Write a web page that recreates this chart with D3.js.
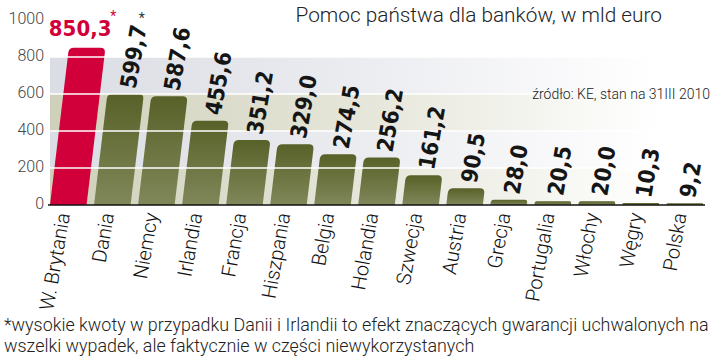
<!DOCTYPE html>
<html>
<head>
<meta charset="utf-8">
<script src="https://cdn.jsdelivr.net/npm/d3@7"></script>
<style>
  body { margin: 0; background: #fff; }
  svg { display: block; }
</style>
</head>
<body>
<svg id="chart" width="720" height="358"></svg>
<script>
const countries = ["W. Brytania", "Dania", "Niemcy", "Irlandia", "Francja", "Hiszpania", "Belgia",
  "Holandia", "Szwecja", "Austria", "Grecja", "Portugalia", "Włochy", "Węgry", "Polska"];
const values = [850.3, 599.7, 587.6, 455.6, 351.2, 329.0, 274.5, 256.2, 161.2, 90.5, 28.0, 20.5, 20.0, 10.3, 9.2];
const starred = ["W. Brytania", "Dania"];
const yTicks = [0, 200, 400, 600, 800, 1000];
const title = "Pomoc państwa dla banków, w mld euro";
const source = "źródło: KE, stan na 31III 2010";
const footnote = [
  "*wysokie kwoty w przypadku Danii i Irlandii to efekt znaczących gwarancji uchwalonych na",
  "wszelki wypadek, ale faktycznie w części niewykorzystanych"
];

const svg = d3.select("#chart");
const skew = 0.12;   // bars lean to the right
const fmt = v => d3.format(".1f")(v).replace(".", ",");

const x = d3.scaleBand()
  .domain(countries)
  .range([50, 703])
  .paddingInner(0.17)
  .paddingOuter(0);

const y = d3.scaleLinear()
  .domain([0, 1000])
  .range([205, 20]);

// gradients
const defs = svg.append("defs");
function fade(id, color) {
  let g = defs.append("linearGradient")
    .attr("id", id)
    .attr("gradientUnits", "userSpaceOnUse")
    .attr("x1", 50).attr("x2", 660).attr("y1", 0).attr("y2", 0);
  g.append("stop").attr("offset", 0).attr("stop-color", color);
  g.append("stop").attr("offset", 0.5).attr("stop-color", d3.interpolateRgb(color, "#fff")(0.45));
  g.append("stop").attr("offset", 1).attr("stop-color", "#fff");
}
fade("bandGray", "#dadde4");
fade("bandBeige", "#cfd0b9");

let olive = defs.append("linearGradient")
  .attr("id", "olive")
  .attr("x1", 0).attr("x2", 0).attr("y1", 0).attr("y2", 1);
olive.append("stop").attr("offset", 0).attr("stop-color", "#586128");
olive.append("stop").attr("offset", 1).attr("stop-color", "#80875a");

// background bands
const bands = d3.pairs(yTicks.slice(0, 5));
svg.append("g")
  .selectAll("rect")
  .data(bands)
  .enter().append("rect")
  .attr("x", 50)
  .attr("width", 655)
  .attr("y", d => y(d[1]))
  .attr("height", d => y(d[0]) - y(d[1]))
  .attr("fill", (d, i) => i % 2 === 0 ? "url(#bandBeige)" : "url(#bandGray)");

// bars
function barPath(name, v) {
  let x0 = x(name), w = x.bandwidth();
  let yb = y(0), yt = y(v), h = yb - yt;
  let s = h * skew;
  let r = Math.min(5, h / 2);
  let sr = skew * (h - r);
  return "M" + x0 + "," + yb +
    "L" + (x0 + sr) + "," + (yt + r) +
    "Q" + (x0 + s) + "," + yt + " " + (x0 + s + r) + "," + yt +
    "L" + (x0 + s + w - r) + "," + yt +
    "Q" + (x0 + s + w) + "," + yt + " " + (x0 + w + sr) + "," + (yt + r) +
    "L" + (x0 + w) + "," + yb + "Z";
}

svg.append("g")
  .selectAll("path")
  .data(countries)
  .enter().append("path")
  .attr("d", (d, i) => barPath(d, values[i]))
  .attr("fill", (d, i) => i === 0 ? "#d2003a" : "url(#olive)");

// white gridlines on top of the bars
svg.append("g")
  .selectAll("line")
  .data(yTicks.slice(1, 5))
  .enter().append("line")
  .attr("x1", 50).attr("x2", 705)
  .attr("y1", d => y(d)).attr("y2", d => y(d))
  .attr("stroke", "#fff")
  .attr("stroke-width", 1.4);

// baseline
svg.append("line")
  .attr("x1", 48).attr("x2", 705)
  .attr("y1", y(0)).attr("y2", y(0))
  .attr("stroke", "#111")
  .attr("stroke-width", 1.6);

// y labels
svg.append("g")
  .selectAll("text")
  .data(yTicks)
  .enter().append("text")
  .attr("x", 44)
  .attr("y", d => y(d) - 2)
  .attr("dy", "0.35em")
  .attr("text-anchor", "end")
  .style("font-family", "Roboto, sans-serif")
  .style("font-weight", 300)
  .style("font-size", "16px")
  .style("fill", "#444")
  .text(d => d);

// value labels
const topCenter = (d, i) => x(d) + x.bandwidth() / 2 + (y(0) - y(values[i])) * skew;

svg.append("text")
  .attr("x", topCenter(countries[0], 0) - 7)
  .attr("y", y(values[0]) - 12)
  .attr("text-anchor", "middle")
  .style("font-family", "'DejaVu Sans Condensed', sans-serif")
  .style("font-weight", "bold")
  .style("font-size", "22px")
  .style("fill", "#d2003a")
  .text(fmt(values[0]));

svg.append("text")
  .attr("x", topCenter(countries[0], 0) + 23)
  .attr("y", y(values[0]) - 27)
  .style("font-family", "Roboto, sans-serif")
  .style("font-size", "14px")
  .style("fill", "#d2003a")
  .text("*");

const ang = -80;
const rad = ang * Math.PI / 180;
let valLabels = svg.append("g")
  .selectAll("text")
  .data(countries.slice(1))
  .enter().append("text")
  .attr("transform", (d, i) => "translate(" + (topCenter(d, i + 1) + 2) + "," + (y(values[i + 1]) - 6) + ") rotate(" + ang + ")")
  .attr("dy", "0.36em")
  .style("font-family", "'DejaVu Sans Condensed', sans-serif")
  .style("font-weight", "bold")
  .style("font-size", "22.5px")
  .style("fill", "#151515")
  .text((d, i) => fmt(values[i + 1]));

valLabels.each(function(d, i) {
  if (starred.indexOf(d) < 0) return;
  let len = this.getComputedTextLength();
  let cx = topCenter(d, i + 1) + 2 + len * Math.cos(rad);
  let cy = y(values[i + 1]) - 6 + len * Math.sin(rad);
  svg.append("text")
    .attr("x", cx + 3)
    .attr("y", cy - 2)
    .attr("text-anchor", "middle")
    .style("font-family", "Roboto, sans-serif")
    .style("font-size", "14px")
    .style("fill", "#333")
    .text("*");
});

// category labels
svg.append("g")
  .selectAll("text")
  .data(countries)
  .enter().append("text")
  .attr("transform", d => "translate(" + (x(d) + x.bandwidth() / 2 - 5) + ",213) rotate(" + ang + ")")
  .attr("dy", "0.35em")
  .attr("text-anchor", "end")
  .style("font-family", "Roboto, sans-serif")
  .style("font-weight", 300)
  .style("font-size", "20px")
  .style("fill", "#111")
  .text(d => d);

// title, source, footnote
svg.append("text")
  .attr("x", 662).attr("y", 22)
  .attr("text-anchor", "end")
  .style("font-family", "Roboto, sans-serif")
  .style("font-weight", 300)
  .style("font-size", "20.8px")
  .style("fill", "#222")
  .text(title);

svg.append("text")
  .attr("x", 710).attr("y", 99)
  .attr("text-anchor", "end")
  .style("font-family", "Roboto, sans-serif")
  .style("font-weight", 300)
  .style("font-size", "14px")
  .style("fill", "#222")
  .text(source);

svg.append("g")
  .selectAll("text")
  .data(footnote)
  .enter().append("text")
  .attr("x", 4)
  .attr("y", (d, i) => 331 + i * 21)
  .style("font-family", "Roboto, sans-serif")
  .style("font-weight", 300)
  .style("font-size", "17.9px")
  .style("fill", "#222")
  .text(d => d);
</script>
</body>
</html>
